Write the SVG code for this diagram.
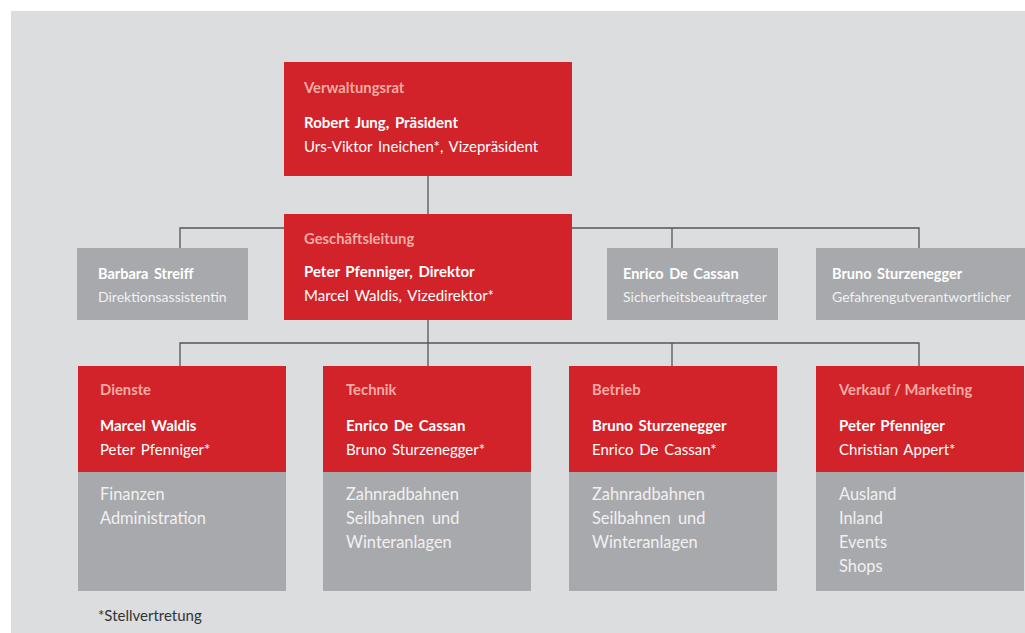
<svg xmlns="http://www.w3.org/2000/svg" width="1025" height="633" viewBox="0 0 1025 633">
  <style>
    text { font-family: Lato, "Liberation Sans", sans-serif; word-spacing: 2px; }
    .red { fill: #d2232a; }
    .grey { fill: #a8a9ac; }
    .head { font-size: 14.8px; font-weight: bold; fill: #f2aba3; }
    .name { font-size: 15px; font-weight: bold; fill: #ffffff; }
    .sub { font-size: 15px; fill: #ffffff; }
    .sname { font-size: 14.5px; font-weight: bold; fill: #ffffff; }
    .srole { font-size: 14px; fill: #f1f1f2; }
    .area { font-size: 16.4px; fill: #f1f1f2; word-spacing: 3px; }
    .note { font-size: 15px; fill: #333333; }
    .conn { fill: none; stroke: #555555; stroke-width: 1.3; }
  </style>

  <!-- page background -->
  <rect x="0" y="0" width="1025" height="633" fill="#ffffff"/>
  <rect x="11" y="11" width="1014" height="622" fill="#dcdddf"/>

  <!-- connectors -->
  <g id="connectors">
    <path class="conn" d="M428 176 V366"/>
    <path class="conn" d="M180 248 V228 H919 V248"/>
    <path class="conn" d="M672 228 V248"/>
    <path class="conn" d="M180 366 V343 H919 V366"/>
    <path class="conn" d="M672 343 V366"/>
  </g>

  <g id="verwaltungsrat">
    <rect class="red" x="284" y="62" width="288" height="114"/>
    <text class="head" x="304" y="93">Verwaltungsrat</text>
    <text class="name" x="304" y="128">Robert Jung, Präsident</text>
    <text class="sub" x="304" y="152">Urs-Viktor Ineichen*, Vizepräsident</text>
  </g>

  <g id="geschaeftsleitung">
    <rect class="red" x="284" y="214" width="288" height="106"/>
    <text class="head" x="304" y="244">Geschäftsleitung</text>
    <text class="name" x="304" y="277">Peter Pfenniger, Direktor</text>
    <text class="sub" x="304" y="301">Marcel Waldis, Vizedirektor*</text>
  </g>

  <g id="assistenz">
    <rect class="grey" x="77" y="248" width="171" height="72"/>
    <text class="sname" x="98" y="279">Barbara Streiff</text>
    <text class="srole" x="98" y="302">Direktionsassistentin</text>
  </g>

  <g id="sicherheit">
    <rect class="grey" x="607" y="248" width="171" height="72"/>
    <text class="sname" x="623" y="279">Enrico De Cassan</text>
    <text class="srole" x="623" y="302">Sicherheitsbeauftragter</text>
  </g>

  <g id="gefahrengut">
    <rect class="grey" x="816" y="248" width="209" height="72"/>
    <text class="sname" x="832" y="279">Bruno Sturzenegger</text>
    <text class="srole" x="832" y="302">Gefahrengutverantwortlicher</text>
  </g>

  <g id="dienste">
    <rect class="red" x="78" y="366" width="208" height="106"/>
    <rect class="grey" x="78" y="472" width="208" height="119"/>
    <text class="head" x="100" y="395">Dienste</text>
    <text class="name" x="100" y="431">Marcel Waldis</text>
    <text class="sub" x="100" y="455">Peter Pfenniger*</text>
    <text class="area" x="100" y="500">Finanzen</text>
    <text class="area" x="100" y="524">Administration</text>
  </g>

  <g id="technik">
    <rect class="red" x="323" y="366" width="208" height="106"/>
    <rect class="grey" x="323" y="472" width="208" height="119"/>
    <text class="head" x="346" y="395">Technik</text>
    <text class="name" x="346" y="431">Enrico De Cassan</text>
    <text class="sub" x="346" y="455">Bruno Sturzenegger*</text>
    <text class="area" x="346" y="500">Zahnradbahnen</text>
    <text class="area" x="346" y="524">Seilbahnen und</text>
    <text class="area" x="346" y="548">Winteranlagen</text>
  </g>

  <g id="betrieb">
    <rect class="red" x="569" y="366" width="208" height="106"/>
    <rect class="grey" x="569" y="472" width="208" height="119"/>
    <text class="head" x="592" y="395">Betrieb</text>
    <text class="name" x="592" y="431">Bruno Sturzenegger</text>
    <text class="sub" x="592" y="455">Enrico De Cassan*</text>
    <text class="area" x="592" y="500">Zahnradbahnen</text>
    <text class="area" x="592" y="524">Seilbahnen und</text>
    <text class="area" x="592" y="548">Winteranlagen</text>
  </g>

  <g id="verkauf">
    <rect class="red" x="816" y="366" width="208" height="106"/>
    <rect class="grey" x="816" y="472" width="208" height="119"/>
    <text class="head" x="839" y="395" style="word-spacing:0">Verkauf / Marketing</text>
    <text class="name" x="839" y="431">Peter Pfenniger</text>
    <text class="sub" x="839" y="455">Christian Appert*</text>
    <text class="area" x="839" y="500">Ausland</text>
    <text class="area" x="839" y="524">Inland</text>
    <text class="area" x="839" y="548">Events</text>
    <text class="area" x="839" y="572">Shops</text>
  </g>

  <text class="note" x="98" y="621">*Stellvertretung</text>
</svg>
